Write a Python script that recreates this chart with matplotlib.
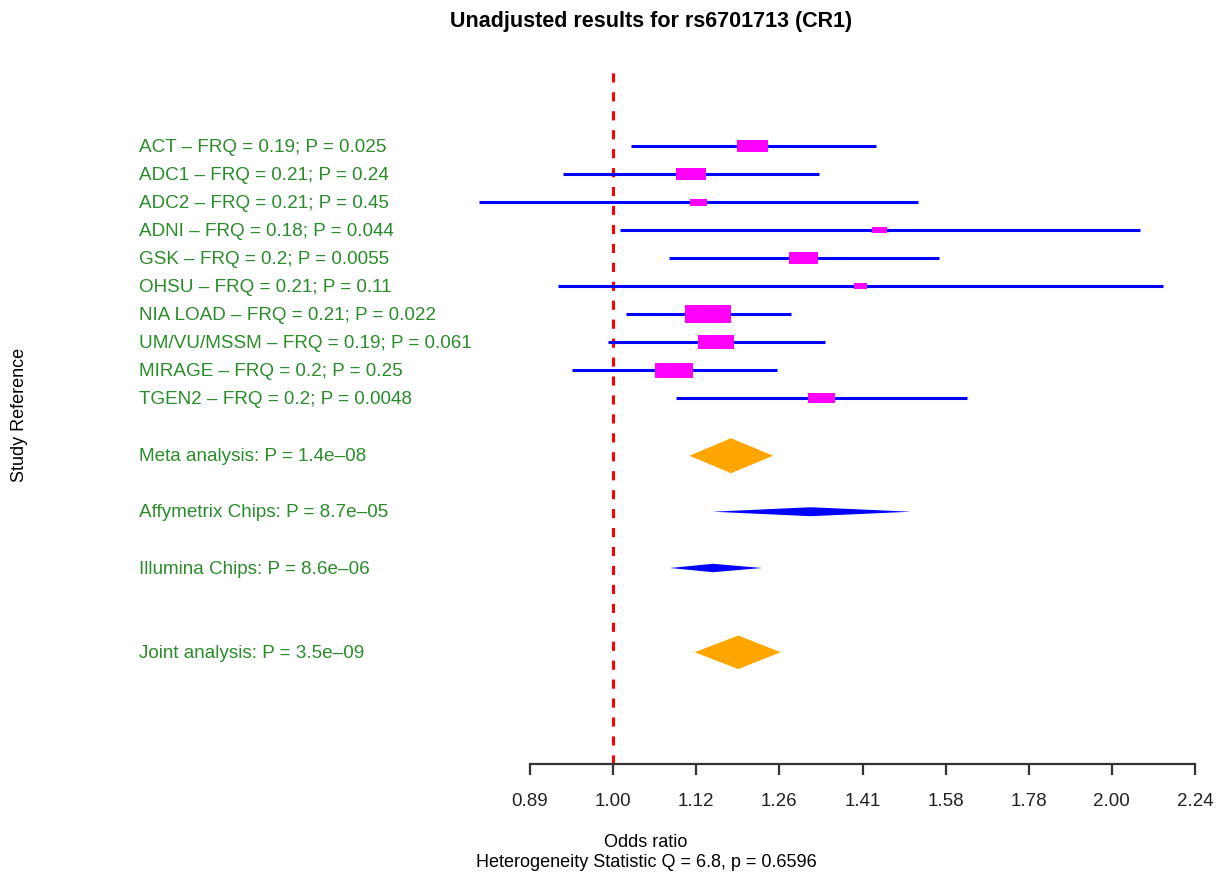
import numpy as np
import matplotlib
matplotlib.use("Agg")
import matplotlib.pyplot as plt
from matplotlib.patches import Rectangle, Polygon
from matplotlib.transforms import blended_transform_factory

plt.rcParams['font.family'] = ['Liberation Sans', 'DejaVu Sans']

# study level results (odds ratio and 95% CI)
studies = ["ACT", "ADC1", "ADC2", "ADNI", "GSK", "OHSU", "NIA LOAD",
           "UM/VU/MSSM", "MIRAGE", "TGEN2"]
frq = ["0.19", "0.21", "0.21", "0.18", "0.2", "0.21", "0.21", "0.19", "0.2", "0.2"]
pvals = ["0.025", "0.24", "0.45", "0.044", "0.0055", "0.11", "0.022",
         "0.061", "0.25", "0.0048"]
or_est = [1.214, 1.114, 1.126, 1.448, 1.303, 1.410, 1.141, 1.154, 1.088, 1.336]
ci_lo = [1.025, 0.933, 0.830, 1.009, 1.081, 0.926, 1.018, 0.993, 0.944, 1.092]
ci_hi = [1.440, 1.331, 1.528, 2.080, 1.573, 2.148, 1.280, 1.342, 1.256, 1.636]

# summary results
summ_names = ["Meta analysis", "Affymetrix Chips", "Illumina Chips", "Joint analysis"]
summ_p = ["1.4e\u201308", "8.7e\u201305", "8.6e\u201306", "3.5e\u201309"]
summ_or = [1.178, 1.316, 1.149, 1.190]
summ_lo = [1.112, 1.148, 1.082, 1.120]
summ_hi = [1.249, 1.513, 1.230, 1.262]

# x axis ticks (log scale, steps of 2^(1/6))
tick_vals = 2 ** (np.arange(-1, 8) / 6.0)
tick_labels = ["0.89", "1.00", "1.12", "1.26", "1.41", "1.58", "1.78", "2.00", "2.24"]

fig = plt.figure(figsize=(12.17, 8.79), dpi=100)
ax = fig.add_axes([530 / 1217, 114 / 879, 665 / 1217, 693 / 879])
ax.set_xscale('log')
ax.set_xlim(tick_vals[0], tick_vals[-1])
ax.set_ylim(22.07, -2.68)

green = '#2a8c2a'
fs = 13.6
lab_tr = blended_transform_factory(fig.transFigure, ax.transData)

# reference line at OR = 1
ax.axvline(1.0, color='red', lw=2.2, dashes=(3, 3.2), zorder=1)

for i in range(len(studies)):
    ax.plot([ci_lo[i], ci_hi[i]], [i, i], color='blue', lw=2.2,
            solid_capstyle='butt', clip_on=False, zorder=2)
    # box size proportional to precision (1/CI width on log scale)
    w_log2 = np.log2(ci_hi[i]) - np.log2(ci_lo[i])
    h = 6.2 / w_log2 / 28.0
    half = 1.25 * h * 28.0 / 498.6
    x0 = or_est[i] * 2 ** (-half)
    x1 = or_est[i] * 2 ** (half)
    ax.add_patch(Rectangle((x0, i - h / 2), x1 - x0, h, facecolor='magenta',
                           edgecolor='none', zorder=3, clip_on=False))
    ax.text(139 / 1217, i, studies[i] + " \u2013 FRQ = " + frq[i] + "; P = " + pvals[i],
            transform=lab_tr, color=green, fontsize=fs, va='center', ha='left')

summ_rows = [11.06, 13.06, 15.07, 18.08]
summ_col = ['orange', 'blue', 'blue', 'orange']
summ_h = [1.25, 0.32, 0.3, 1.2]
for j in range(len(summ_names)):
    y = summ_rows[j]
    hh = summ_h[j] / 2
    pts = [(summ_lo[j], y), (summ_or[j], y - hh), (summ_hi[j], y), (summ_or[j], y + hh)]
    ax.add_patch(Polygon(pts, closed=True, facecolor=summ_col[j], edgecolor='none', zorder=3))
    ax.text(139 / 1217, y, summ_names[j] + ": P = " + summ_p[j],
            transform=lab_tr, color=green, fontsize=fs, va='center', ha='left')

for s in ['top', 'right', 'left']:
    ax.spines[s].set_visible(False)
ax.spines['bottom'].set_color('#333333')
ax.spines['bottom'].set_linewidth(1.6)
ax.set_yticks([])
ax.set_xticks(tick_vals)
ax.set_xticklabels(tick_labels)
ax.xaxis.set_minor_locator(matplotlib.ticker.NullLocator())
ax.tick_params(axis='x', length=8, width=1.6, color='#333333', pad=12,
               labelsize=13.5, labelcolor='#222222')

fig.text(651 / 1217, 1 - 22 / 879, "Unadjusted results for rs6701713 (CR1)",
         ha='center', va='center', fontsize=15.5, fontweight='bold')
fig.text(20 / 1217, 1 - 415 / 879, "Study Reference", rotation=90,
         ha='center', va='center', fontsize=13)
fig.text(646 / 1217, 1 - 843 / 879, "Odds ratio", ha='center', va='center', fontsize=13)
fig.text(646 / 1217, 1 - 863 / 879, "Heterogeneity Statistic Q = 6.8, p = 0.6596",
         ha='center', va='center', fontsize=13)

fig.savefig("out.png", dpi=100)
